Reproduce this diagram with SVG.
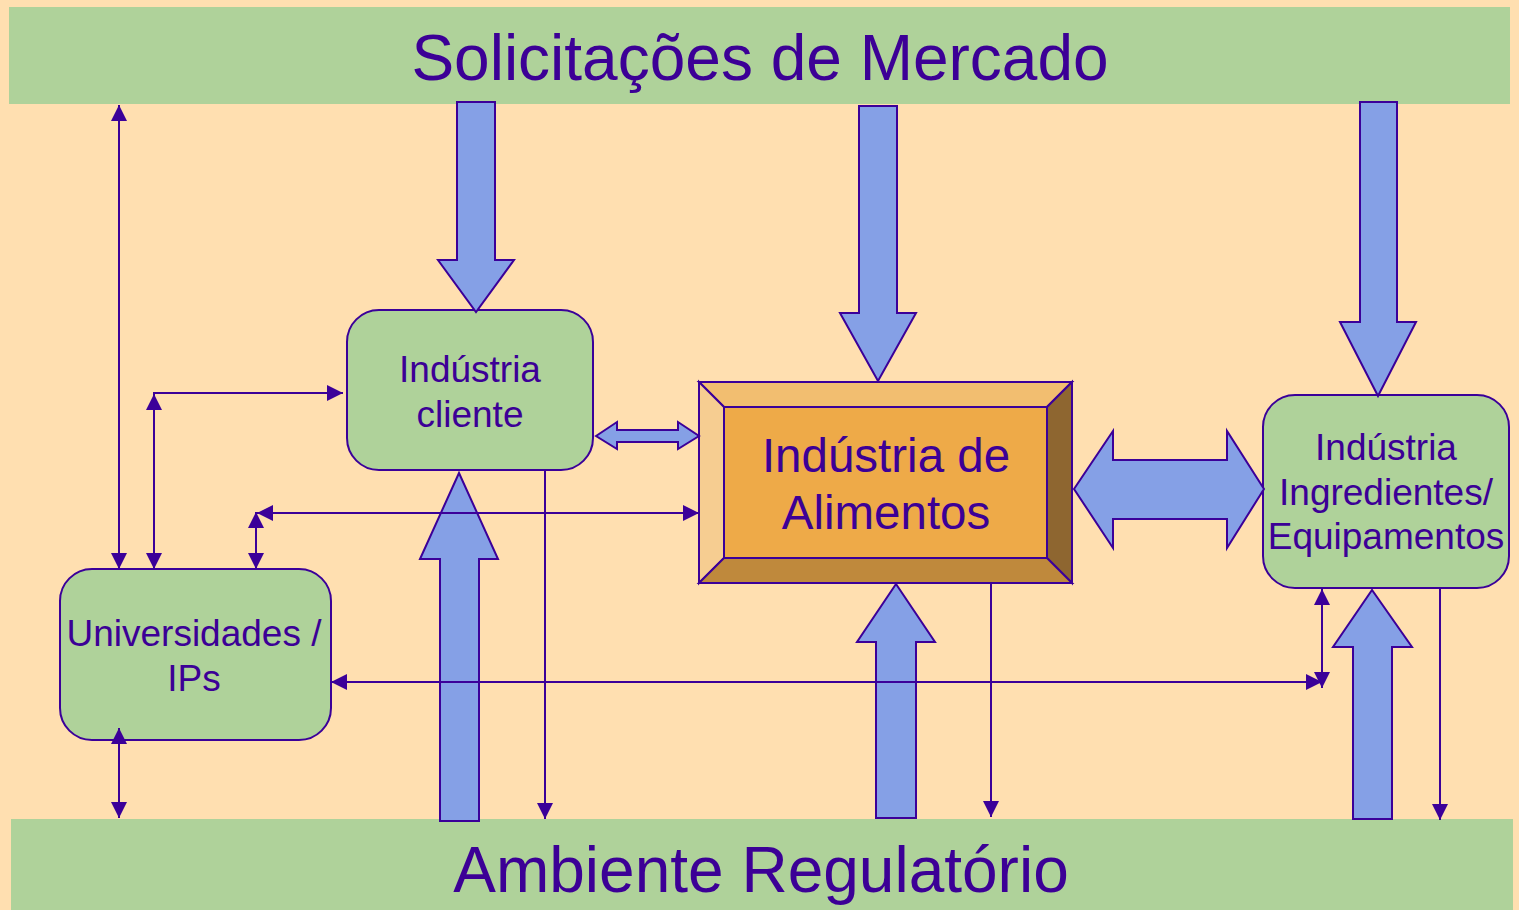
<svg xmlns="http://www.w3.org/2000/svg" width="1519" height="910" viewBox="0 0 1519 910">
<style>
.band{fill:#AFD29A;}
.box{fill:#AFD29A;stroke:#3B0099;stroke-width:2;}
.big{fill:#85A0E6;stroke:#3B0099;stroke-width:2;stroke-linejoin:miter;}
.ln{stroke:#3B0099;stroke-width:2;fill:none;}
.t{font-family:"Liberation Sans",Arial,sans-serif;fill:#3C0096;text-anchor:middle;}
.s{font-size:37px;}
.bv{stroke:#3B0099;stroke-width:2;stroke-linejoin:miter;}
</style>
<defs>
<marker id="ah" markerUnits="userSpaceOnUse" markerWidth="16" markerHeight="16" viewBox="0 0 15 15" refX="15" refY="7.5" orient="auto-start-reverse">
<path d="M0,0 L15,7.5 L0,15 z" fill="#3B0099"/>
</marker>
</defs>
<rect x="0" y="0" width="1519" height="910" fill="#FFDFB0"/>

<g id="node-mercado">
<rect class="band" x="9" y="7" width="1501" height="97"/>
<text class="t" x="760" y="80" font-size="64">Solicitações de Mercado</text>
</g>
<g id="node-regulatorio">
<rect class="band" x="11" y="819" width="1502" height="91"/>
<text class="t" x="761" y="892" font-size="64">Ambiente Regulatório</text>
</g>

<g id="node-cliente">
<rect class="box" x="347" y="310" width="246" height="160" rx="32"/>
<text class="t s" x="470" y="382">Indústria</text>
<text class="t s" x="470" y="427">cliente</text>
</g>

<g id="node-universidades">
<rect class="box" x="60" y="569" width="271" height="171" rx="32"/>
<text class="t s" x="194" y="646">Universidades /</text>
<text class="t s" x="194" y="691">IPs</text>
</g>

<g id="node-ingredientes">
<rect class="box" x="1263" y="395" width="246" height="193" rx="32"/>
<text class="t s" x="1386" y="460">Indústria</text>
<text class="t s" x="1386" y="505">Ingredientes/</text>
<text class="t s" x="1386" y="549">Equipamentos</text>
</g>

<g id="node-alimentos">
<polygon class="bv" fill="#F2BE70" points="699,382 1072,382 1047,407 724,407"/>
<polygon class="bv" fill="#F6CD91" points="699,382 724,407 724,558 699,583"/>
<polygon class="bv" fill="#8E6630" points="1072,382 1072,583 1047,558 1047,407"/>
<polygon class="bv" fill="#BF893C" points="699,583 724,558 1047,558 1072,583"/>
<rect class="bv" fill="#EEAA48" x="724" y="407" width="323" height="151"/>
<text class="t" x="886" y="472" font-size="47.5">Indústria de</text>
<text class="t" x="886" y="529" font-size="47.5">Alimentos</text>
</g>

<g id="connectors">
<polygon class="big" points="457,102 495,102 495,260 514,260 476,312 438,260 457,260"/>
<polygon class="big" points="859,106 897,106 897,313 916,313 878,381 840,313 859,313"/>
<polygon class="big" points="1360,102 1397,102 1397,322 1416,322 1378,396 1340,322 1360,322"/>
<polygon class="big" points="440,821 479,821 479,559 498,559 459,473 420,559 440,559"/>
<polygon class="big" points="876,818 916,818 916,642 935,642 896,584 857,642 876,642"/>
<polygon class="big" points="1353,819 1392,819 1392,647 1412,647 1372,590 1333,647 1353,647"/>
<polygon class="big" points="596,436 617,422 617,430 678,430 678,422 699,436 678,449 678,442 617,442 617,449"/>
<polygon class="big" points="1074,489 1113,431 1113,460 1227,460 1227,431 1264,489 1227,548 1227,519 1113,519 1113,548"/>
<line class="ln" x1="119" y1="105" x2="119" y2="569" marker-start="url(#ah)" marker-end="url(#ah)"/>
<line class="ln" x1="154" y1="394" x2="154" y2="569" marker-start="url(#ah)" marker-end="url(#ah)"/>
<line class="ln" x1="153" y1="393" x2="343" y2="393" marker-end="url(#ah)"/>
<line class="ln" x1="256" y1="512" x2="256" y2="569" marker-start="url(#ah)" marker-end="url(#ah)"/>
<line class="ln" x1="257" y1="513" x2="699" y2="513" marker-start="url(#ah)" marker-end="url(#ah)"/>
<line class="ln" x1="331" y1="682" x2="1322" y2="682" marker-start="url(#ah)" marker-end="url(#ah)"/>
<line class="ln" x1="1322" y1="589" x2="1322" y2="688" marker-start="url(#ah)" marker-end="url(#ah)"/>
<line class="ln" x1="119" y1="728" x2="119" y2="818" marker-start="url(#ah)" marker-end="url(#ah)"/>
<line class="ln" x1="545" y1="470" x2="545" y2="819" marker-end="url(#ah)"/>
<line class="ln" x1="991" y1="583" x2="991" y2="817" marker-end="url(#ah)"/>
<line class="ln" x1="1440" y1="588" x2="1440" y2="820" marker-end="url(#ah)"/>
</g>
</svg>
